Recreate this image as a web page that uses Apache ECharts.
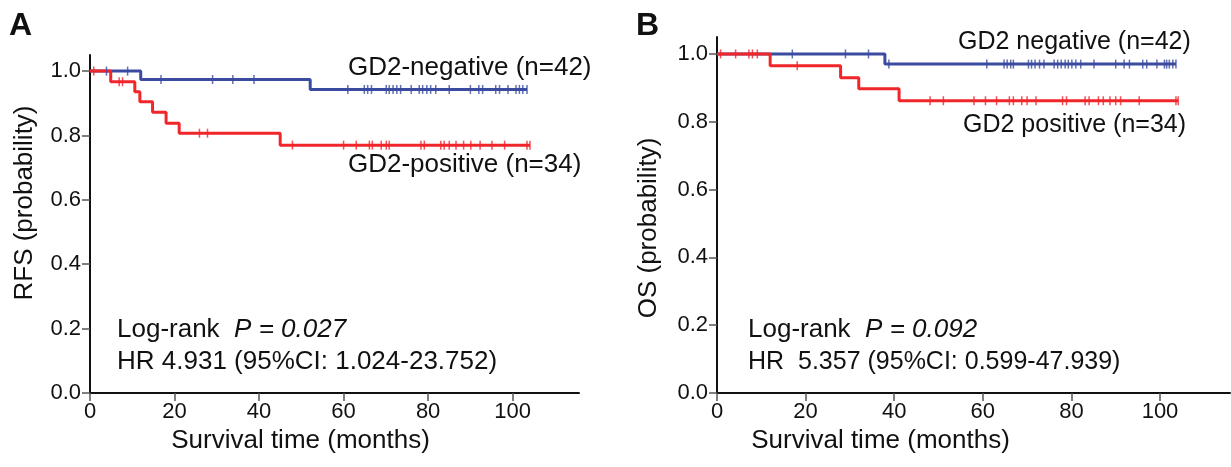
<!DOCTYPE html>
<html>
<head>
<meta charset="utf-8">
<title>GD2 survival curves</title>
<script src="https://cdn.jsdelivr.net/npm/echarts@6/dist/echarts.min.js"></script>
<style>
  html, body { margin: 0; padding: 0; background: #fff; }
  #chart { width: 1231px; height: 467px; }
</style>
</head>
<body>
<div id="chart"></div>
<script>
// ---- data ----
const xTicks = [0, 20, 40, 60, 80, 100];
const yTicks = [0, 0.2, 0.4, 0.6, 0.8, 1.0];

// A: RFS
const rfsNegEvents = [12.0, 52.1];
const rfsNegLevels = [0.974, 0.943];
const rfsNegCensor = [3.9, 8.9, 16.8, 29.0, 33.8, 38.8, 61.0, 64.9, 65.7, 66.6, 70.1, 70.8, 71.7, 72.6, 73.5, 76.0, 77.9, 78.7, 79.7, 80.6, 81.8, 85.0, 90.0, 92.0, 92.9, 96.0, 96.9, 98.9, 100.8, 101.6, 102.4, 103.4];
const rfsNegEnd = 103.4;

const rfsPosEvents = [4.9, 10.6, 11.8, 14.8, 18.0, 21.1, 45.0];
const rfsPosLevels = [0.967, 0.936, 0.905, 0.872, 0.838, 0.807, 0.770];
const rfsPosCensor = [0.9, 6.9, 7.7, 25.9, 27.8, 47.9, 60.0, 63.0, 66.1, 66.8, 68.9, 70.1, 70.8, 78.3, 79.1, 83.0, 83.8, 85.0, 86.6, 88.4, 90.1, 92.3, 95.1, 98.1, 103.4, 104.1];
const rfsPosEnd = 104.1;

// B: OS
const osNegEvents = [37.9];
const osNegLevels = [0.970];
const osNegCensor = [17.0, 29.0, 34.2, 38.8, 60.9, 64.8, 65.5, 66.3, 66.9, 70.3, 71.0, 71.8, 72.8, 73.8, 76.1, 76.9, 77.7, 78.6, 79.3, 80.1, 81.0, 82.1, 85.1, 90.0, 91.9, 93.1, 96.1, 97.0, 99.3, 101.0, 101.5, 102.1, 102.9, 103.6];
const osNegEnd = 103.6;

const osPosEvents = [12.0, 27.9, 32.0, 41.1];
const osPosLevels = [0.965, 0.930, 0.897, 0.862];
const osPosCensor = [0.8, 4.2, 7.2, 8.0, 9.1, 18.1, 48.1, 51.1, 58.0, 60.6, 63.1, 66.0, 66.9, 68.8, 70.0, 72.0, 78.0, 78.9, 83.1, 84.0, 86.1, 87.2, 88.7, 90.0, 91.1, 95.3, 103.6, 104.1];
const osPosEnd = 104.1;

const BLUE = '#3a4ba0';
const RED = '#f0262b';
const FONT = 'Liberation Sans, Arial, sans-serif';

// ---- helpers ----
function steps(events, levels, end) {
  const pts = [[0, 1]];
  events.forEach((t, i) => pts.push([t, levels[i]]));
  pts.push([end, levels[levels.length - 1]]);
  return pts;
}

function survivalAt(t, events, levels) {
  let s = 1;
  events.forEach((e, i) => { if (e <= t) s = levels[i]; });
  return s;
}

function curve(idx, events, levels, end, censor, color) {
  return [
    {
      type: 'line', step: 'end', xAxisIndex: idx, yAxisIndex: idx,
      data: steps(events, levels, end), showSymbol: false,
      lineStyle: { color: color, width: 3 }, z: 3
    },
    {
      type: 'scatter', xAxisIndex: idx, yAxisIndex: idx,
      data: censor.map(t => [t, survivalAt(t, events, levels)]),
      symbol: 'rect', symbolSize: [1.5, 9],
      itemStyle: { color: color }, z: 4
    }
  ];
}

function xAxis(idx, max, namePad) {
  return {
    type: 'value', gridIndex: idx, min: 0, max: max,
    name: 'Survival time (months)', nameLocation: 'middle', nameGap: 33,
    nameTextStyle: { fontSize: 26, fontFamily: FONT, color: '#111', padding: namePad },
    axisLine: { lineStyle: { color: '#111', width: 2 } },
    axisTick: { customValues: xTicks, length: 8, lineStyle: { color: '#555', width: 1.5 } },
    axisLabel: { customValues: xTicks, fontSize: 22, fontFamily: FONT, color: '#111', margin: 8 },
    splitLine: { show: false }
  };
}

function yAxis(idx, name, nameGap, namePad) {
  return {
    type: 'value', gridIndex: idx, min: 0, max: 1.05,
    name: name, nameLocation: 'middle', nameGap: nameGap,
    nameTextStyle: { fontSize: 26, fontFamily: FONT, color: '#111', padding: namePad },
    axisLine: { show: true, lineStyle: { color: '#111', width: 2 } },
    axisTick: { show: true, customValues: yTicks, length: 8, lineStyle: { color: '#555', width: 1.5 } },
    axisLabel: {
      customValues: yTicks, fontSize: 22, fontFamily: FONT, color: '#111', margin: 9,
      formatter: v => v.toFixed(1)
    },
    splitLine: { show: false }
  };
}

function label(x, y, text, size, extra) {
  return {
    type: 'text', x: x, y: y, z: 10,
    style: Object.assign({
      text: text, fontSize: size, fontFamily: FONT, fill: '#111', verticalAlign: 'middle'
    }, extra || {})
  };
}

function pLabel(x, y, pText) {
  return label(x, y, 'Log-rank  {i|P = ' + pText + '}', 26, {
    rich: { i: { fontSize: 26, fontFamily: FONT, fontStyle: 'italic', fill: '#111' } }
  });
}

const chart = echarts.init(document.getElementById('chart'));

chart.setOption({
  animation: false,
  backgroundColor: '#fff',
  grid: [
    { left: 90, top: 55, width: 489, bottom: 74 },
    { left: 717, top: 37, width: 513, bottom: 74 }
  ],
  xAxis: [xAxis(0, 115.7, [0, 68, 0, 0]), xAxis(1, 115.8, [0, 186, 0, 0])],
  yAxis: [
    yAxis(0, 'RFS (probability)', 52, [0, 0, 0, 42]),
    yAxis(1, 'OS (probability)', 55, [0, 26, 0, 0])
  ],
  series: [].concat(
    curve(0, rfsNegEvents, rfsNegLevels, rfsNegEnd, rfsNegCensor, BLUE),
    curve(0, rfsPosEvents, rfsPosLevels, rfsPosEnd, rfsPosCensor, RED),
    curve(1, osNegEvents, osNegLevels, osNegEnd, osNegCensor, BLUE),
    curve(1, osPosEvents, osPosLevels, osPosEnd, osPosCensor, RED)
  ),
  graphic: [
    label(9, 26, 'A', 32, { fontWeight: 'bold' }),
    label(636, 26, 'B', 32, { fontWeight: 'bold' }),
    label(348, 68, 'GD2-negative (n=42)', 26),
    label(348, 165, 'GD2-positive (n=34)', 26),
    pLabel(117, 330, '0.027'),
    label(117, 362, 'HR 4.931 (95%CI: 1.024-23.752)', 26),
    label(958, 42, 'GD2 negative (n=42)', 25),
    label(963, 125, 'GD2 positive (n=34)', 25),
    pLabel(748, 330, '0.092'),
    label(748, 362, 'HR  5.357 (95%CI: 0.599-47.939)', 25)
  ]
});
</script>
</body>
</html>
